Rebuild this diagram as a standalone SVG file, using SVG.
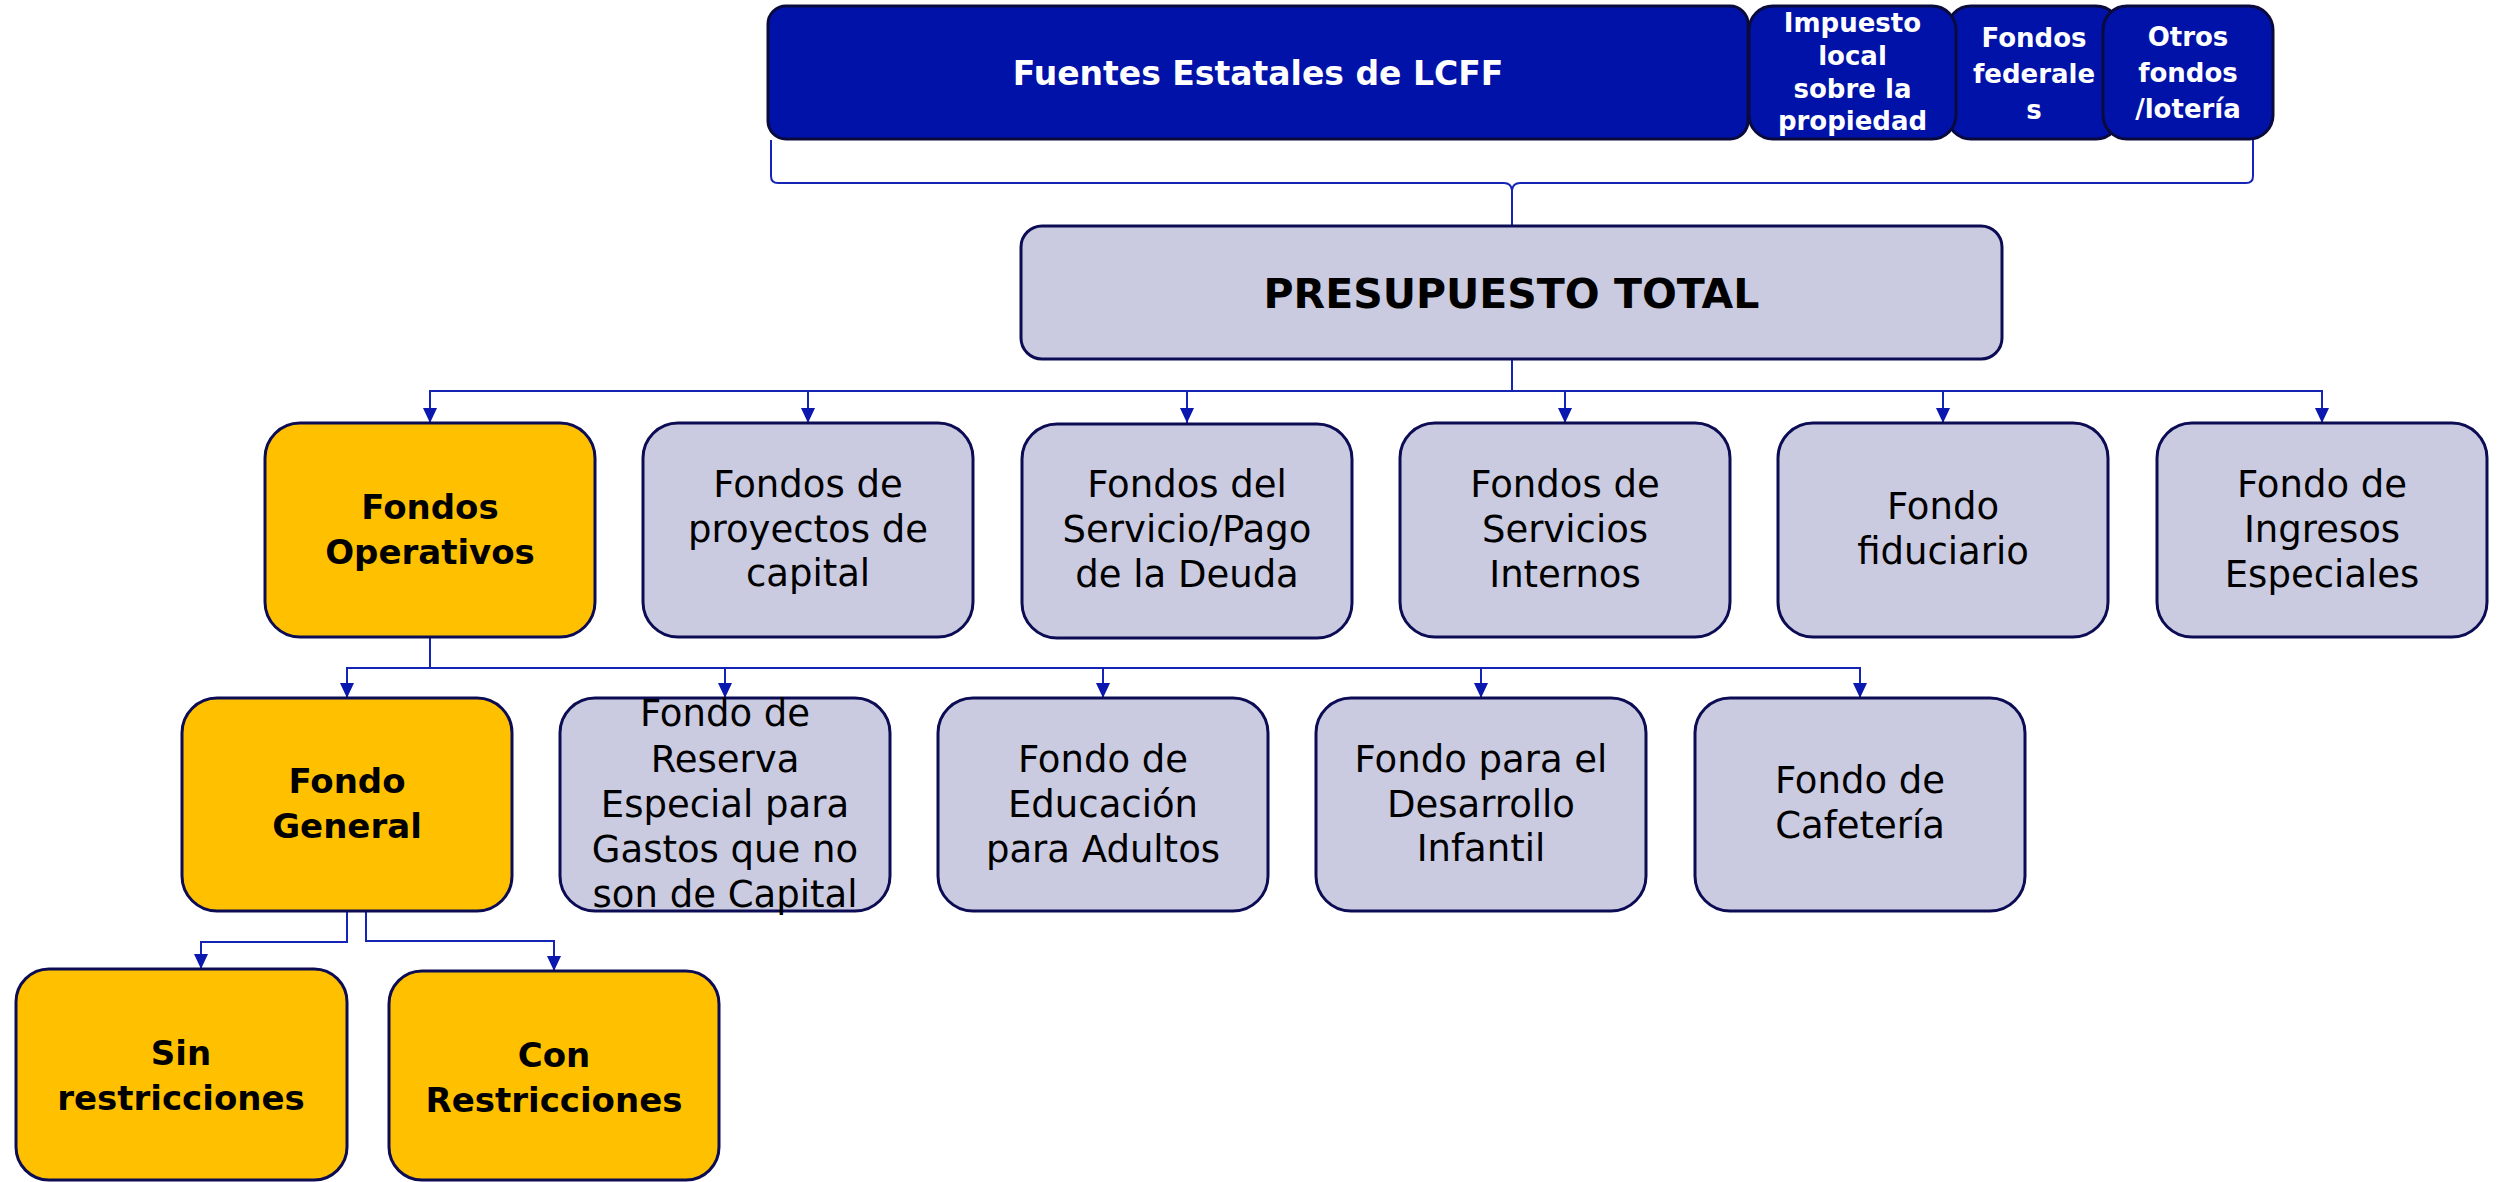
<svg xmlns="http://www.w3.org/2000/svg" width="2503" height="1182" viewBox="0 0 2503 1182">
<style>
.blue{fill:#0012a8;stroke:#0a0a3c;stroke-width:3}
.gray{fill:#cacbe1;stroke:#0c0c54;stroke-width:3}
.gold{fill:#ffc000;stroke:#0c0c54;stroke-width:3}
text{font-family:"DejaVu Sans",sans-serif;text-anchor:middle;fill:#000}
.tw{fill:#fff;font-weight:bold;font-size:26px}
.tb{font-weight:bold;font-size:34px}
.tr{font-size:37px}
.conn{fill:none;stroke:#1424b4;stroke-width:2}
</style>
<defs>
<marker id="ah" markerUnits="userSpaceOnUse" markerWidth="16" markerHeight="16" viewBox="0 0 16 16" refX="15" refY="8" orient="auto">
<path d="M0,1 L15,8 L0,15 Z" fill="#0a18b0"/>
</marker>
</defs>
<rect width="2503" height="1182" fill="#fff"/>

<g id="connectors">
<path class="conn" d="M771 140 V176 Q771 183 778 183 H1504 Q1511 183 1512 190 V225"/>
<path class="conn" d="M2253 140 V176 Q2253 183 2246 183 H1520 Q1513 183 1512 190"/>
<path class="conn" d="M1512 359 V391 H430 V423" marker-end="url(#ah)"/>
<path class="conn" d="M1512 359 V391 H808 V423" marker-end="url(#ah)"/>
<path class="conn" d="M1512 359 V391 H1187 V423" marker-end="url(#ah)"/>
<path class="conn" d="M1512 359 V391 H1565 V423" marker-end="url(#ah)"/>
<path class="conn" d="M1512 359 V391 H1943 V423" marker-end="url(#ah)"/>
<path class="conn" d="M1512 359 V391 H2322 V423" marker-end="url(#ah)"/>
<path class="conn" d="M430 637 V668 H347 V698" marker-end="url(#ah)"/>
<path class="conn" d="M430 637 V668 H725 V698" marker-end="url(#ah)"/>
<path class="conn" d="M430 637 V668 H1103 V698" marker-end="url(#ah)"/>
<path class="conn" d="M430 637 V668 H1481 V698" marker-end="url(#ah)"/>
<path class="conn" d="M430 637 V668 H1860 V698" marker-end="url(#ah)"/>
<path class="conn" d="M347 911 V942 H201 V969" marker-end="url(#ah)"/>
<path class="conn" d="M366 911 V941 H554 V971" marker-end="url(#ah)"/>
</g>

<g id="fuentes-estatales">
<rect class="blue" x="768" y="6" width="980" height="133" rx="18"/>
<text class="tw" x="1258" y="85" style="font-size:33px">Fuentes Estatales de LCFF</text>
</g>
<g id="fondos-federales">
<rect class="blue" x="1947" y="6" width="173" height="133" rx="24"/>
<text class="tw" x="2034" y="46.5">Fondos</text>
<text class="tw" x="2034" y="82.5">federale</text>
<text class="tw" x="2034" y="118.5">s</text>
</g>
<g id="impuesto-local">
<rect class="blue" x="1749" y="6" width="207" height="133" rx="24"/>
<text class="tw" x="1852.5" y="32">Impuesto</text>
<text class="tw" x="1852.5" y="65">local</text>
<text class="tw" x="1852.5" y="98">sobre la</text>
<text class="tw" x="1852.5" y="130">propiedad</text>
</g>
<g id="otros-fondos">
<rect class="blue" x="2103" y="6" width="170" height="133" rx="24"/>
<text class="tw" x="2188" y="46">Otros</text>
<text class="tw" x="2188" y="82">fondos</text>
<text class="tw" x="2188" y="118">/lotería</text>
</g>

<g id="presupuesto-total">
<rect class="gray" x="1021" y="226" width="981" height="133" rx="21"/>
<text x="1511.5" y="308" style="font-weight:bold;font-size:41px">PRESUPUESTO TOTAL</text>
</g>

<g id="fondos-operativos">
<rect class="gold" x="265" y="423" width="330" height="214" rx="35"/>
<text class="tb" x="430" y="519">Fondos</text>
<text class="tb" x="430" y="564">Operativos</text>
</g>
<g id="proyectos-capital">
<rect class="gray" x="643" y="423" width="330" height="214" rx="35"/>
<text class="tr" x="808" y="497">Fondos de</text>
<text class="tr" x="808" y="542">proyectos de</text>
<text class="tr" x="808" y="586">capital</text>
</g>
<g id="servicio-deuda">
<rect class="gray" x="1022" y="424" width="330" height="214" rx="35"/>
<text class="tr" x="1187" y="497">Fondos del</text>
<text class="tr" x="1187" y="542">Servicio/Pago</text>
<text class="tr" x="1187" y="587">de la Deuda</text>
</g>
<g id="servicios-internos">
<rect class="gray" x="1400" y="423" width="330" height="214" rx="35"/>
<text class="tr" x="1565" y="497">Fondos de</text>
<text class="tr" x="1565" y="542">Servicios</text>
<text class="tr" x="1565" y="587">Internos</text>
</g>
<g id="fondo-fiduciario">
<rect class="gray" x="1778" y="423" width="330" height="214" rx="35"/>
<text class="tr" x="1943" y="519">Fondo</text>
<text class="tr" x="1943" y="564">fiduciario</text>
</g>
<g id="ingresos-especiales">
<rect class="gray" x="2157" y="423" width="330" height="214" rx="35"/>
<text class="tr" x="2322" y="497">Fondo de</text>
<text class="tr" x="2322" y="542">Ingresos</text>
<text class="tr" x="2322" y="587">Especiales</text>
</g>

<g id="fondo-general">
<rect class="gold" x="182" y="698" width="330" height="213" rx="35"/>
<text class="tb" x="347" y="793">Fondo</text>
<text class="tb" x="347" y="838">General</text>
</g>
<g id="reserva-especial">
<rect class="gray" x="560" y="698" width="330" height="213" rx="35"/>
<text class="tr" x="725" y="726">Fondo de</text>
<text class="tr" x="725" y="772">Reserva</text>
<text class="tr" x="725" y="817">Especial para</text>
<text class="tr" x="725" y="862">Gastos que no</text>
<text class="tr" x="725" y="907">son de Capital</text>
</g>
<g id="educacion-adultos">
<rect class="gray" x="938" y="698" width="330" height="213" rx="35"/>
<text class="tr" x="1103" y="772">Fondo de</text>
<text class="tr" x="1103" y="817">Educación</text>
<text class="tr" x="1103" y="862">para Adultos</text>
</g>
<g id="desarrollo-infantil">
<rect class="gray" x="1316" y="698" width="330" height="213" rx="35"/>
<text class="tr" x="1481" y="772">Fondo para el</text>
<text class="tr" x="1481" y="817">Desarrollo</text>
<text class="tr" x="1481" y="861">Infantil</text>
</g>
<g id="cafeteria">
<rect class="gray" x="1695" y="698" width="330" height="213" rx="35"/>
<text class="tr" x="1860" y="793">Fondo de</text>
<text class="tr" x="1860" y="838">Cafetería</text>
</g>

<g id="sin-restricciones">
<rect class="gold" x="16" y="969" width="331" height="211" rx="33"/>
<text class="tb" x="181" y="1065">Sin</text>
<text class="tb" x="181" y="1110">restricciones</text>
</g>
<g id="con-restricciones">
<rect class="gold" x="389" y="971" width="330" height="209" rx="33"/>
<text class="tb" x="554" y="1067">Con</text>
<text class="tb" x="554" y="1112">Restricciones</text>
</g>
</svg>
